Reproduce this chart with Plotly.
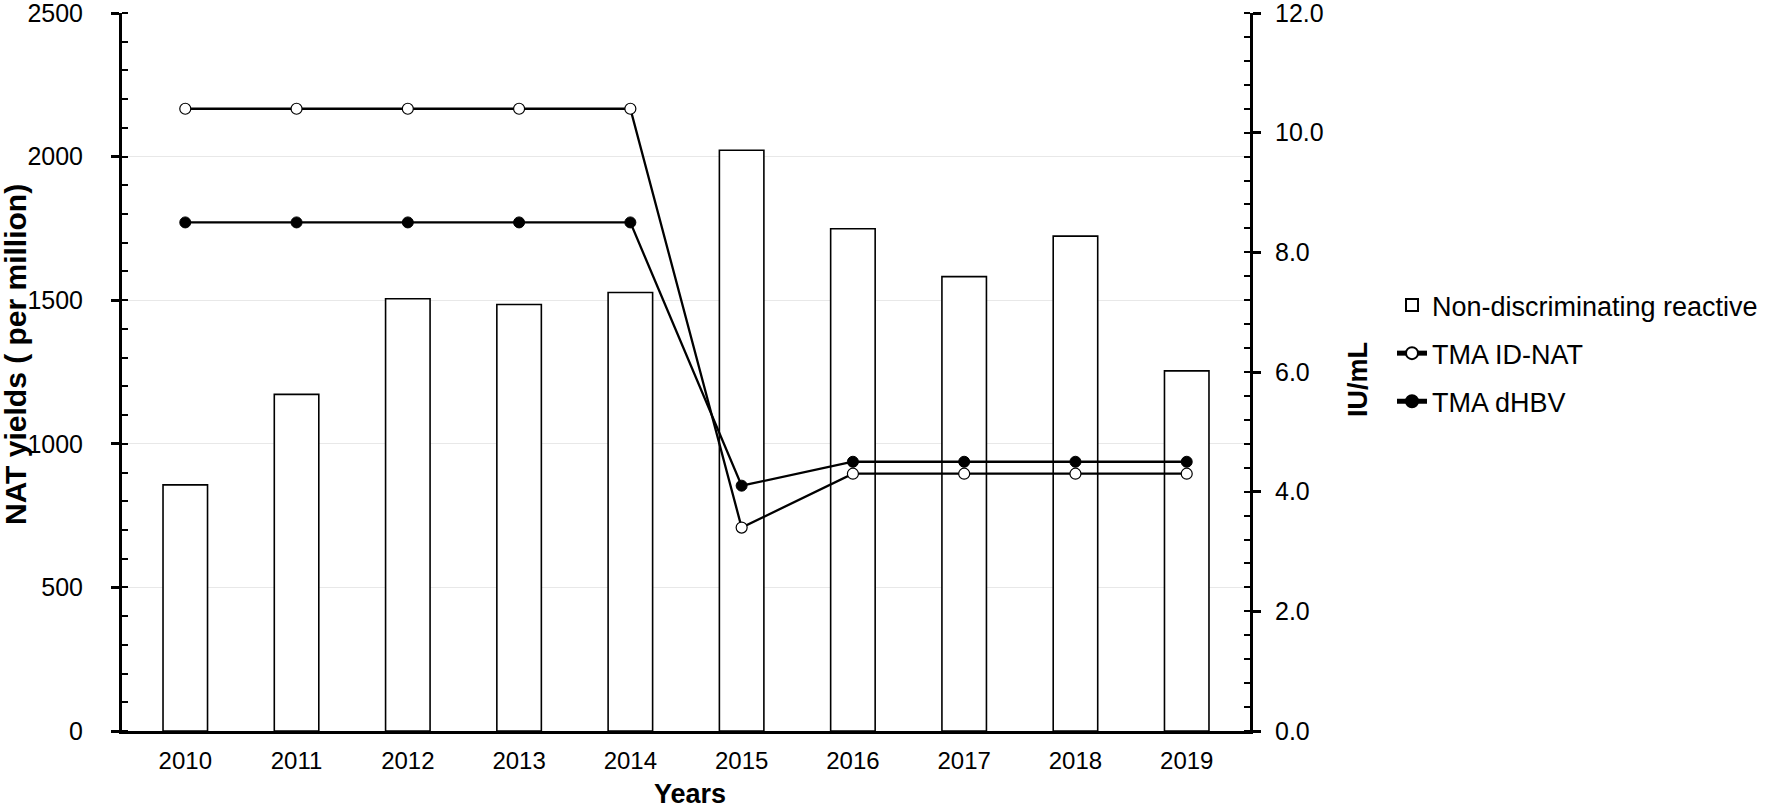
import plotly.graph_objects as go

years = ["2010", "2011", "2012", "2013", "2014", "2015", "2016", "2017", "2018", "2019"]
nat_yields = [857, 1172, 1505, 1485, 1527, 2022, 1749, 1582, 1723, 1254]
tma_id_nat = [10.4, 10.4, 10.4, 10.4, 10.4, 3.4, 4.3, 4.3, 4.3, 4.3]
tma_dhbv = [8.5, 8.5, 8.5, 8.5, 8.5, 4.1, 4.5, 4.5, 4.5, 4.5]

FONT = "Liberation Sans, Arial, sans-serif"

L, R, T, B = 122, 1250, 13, 731
W, H = 1770, 809
pw, ph = R - L, B - T


def px_x(x):
    return (x - L) / pw


def px_y(y):
    return (B - y) / ph


fig = go.Figure()
fig.add_trace(go.Bar(
    x=years, y=nat_yields, name="Non-discriminating reactive",
    marker=dict(color="white", line=dict(color="black", width=1.6)),
    width=0.4, yaxis="y", legendgroup="a",
))
fig.add_trace(go.Scatter(
    x=years, y=tma_id_nat, name="TMA ID-NAT", mode="lines+markers",
    line=dict(color="black", width=2.3),
    marker=dict(symbol="circle", size=11, color="white", line=dict(color="black", width=1.2)),
    yaxis="y2", legendgroup="b",
))
fig.add_trace(go.Scatter(
    x=years, y=tma_dhbv, name="TMA dHBV", mode="lines+markers",
    line=dict(color="black", width=2.3),
    marker=dict(symbol="circle", size=11, color="black", line=dict(color="black", width=1)),
    yaxis="y2", legendgroup="c",
))

fig.update_layout(
    width=W, height=H,
    margin=dict(l=L, r=W - R, t=T, b=H - B, autoexpand=False),
    paper_bgcolor="white", plot_bgcolor="white",
    font=dict(family=FONT, size=24, color="black"),
    showlegend=True,
    legend=dict(
        x=px_x(1392), y=px_y(281), xanchor="left", yanchor="top",
        font=dict(size=27, color="black"),
        bgcolor="rgba(0,0,0,0)", tracegroupgap=10, itemsizing="constant",
    ),
    xaxis=dict(
        type="category", showline=True, linecolor="black", linewidth=2.5,
        ticks="", showgrid=False, tickfont=dict(size=24),
        ticklabelstandoff=6, automargin=False, ticklabeloverflow="allow",
        zeroline=False,
    ),
    yaxis=dict(
        range=[0, 2500], dtick=500, showline=True, linecolor="black", linewidth=3,
        ticks="outside", ticklen=8, tickwidth=3, tickcolor="black",
        minor=dict(dtick=100, ticks="inside", ticklen=6, tickwidth=2, tickcolor="black", showgrid=False),
        showgrid=True, gridcolor="#e8e8e8", gridwidth=1,
        zeroline=False, tickfont=dict(size=25), automargin=False,
        ticklabelstandoff=23, ticklabeloverflow="allow",
    ),
    yaxis2=dict(
        range=[0, 12], dtick=2, tickformat=".1f", overlaying="y", side="right",
        showline=True, linecolor="black", linewidth=3,
        ticks="outside", ticklen=8, tickwidth=3, tickcolor="black",
        minor=dict(dtick=0.4, ticks="inside", ticklen=6, tickwidth=2, tickcolor="black", showgrid=False),
        showgrid=False, zeroline=False, tickfont=dict(size=25), automargin=False,
        ticklabelstandoff=9, ticklabeloverflow="allow",
    ),
    # inner halves of the major ticks (the reference's major ticks cross the axis line)
    yaxis3=dict(
        range=[0, 2500], dtick=500, overlaying="y", side="left", anchor="x",
        showline=False, ticks="inside", ticklen=6, tickwidth=3, tickcolor="black",
        showticklabels=False, showgrid=False, zeroline=False, automargin=False,
    ),
    yaxis4=dict(
        range=[0, 12], dtick=2, overlaying="y", side="right", anchor="x",
        showline=False, ticks="inside", ticklen=6, tickwidth=3, tickcolor="black",
        showticklabels=False, showgrid=False, zeroline=False, automargin=False,
    ),
    annotations=[
        dict(text="<b>NAT yields ( per million)</b>", xref="paper", yref="paper",
             x=px_x(15), y=px_y(355), textangle=-90, showarrow=False,
             xanchor="center", yanchor="middle", font=dict(size=30, family=FONT)),
        dict(text="<b>IU/mL</b>", xref="paper", yref="paper",
             x=px_x(1358), y=px_y(380), textangle=-90, showarrow=False,
             xanchor="center", yanchor="middle", font=dict(size=27, family=FONT)),
        dict(text="<b>Years</b>", xref="paper", yref="paper",
             x=px_x(690), y=px_y(794), showarrow=False,
             xanchor="center", yanchor="middle", font=dict(size=27, family=FONT)),
    ],
)

fig.write_html("out.html", post_script="document.body.style.margin='0';",
               config={"displayModeBar": False})
